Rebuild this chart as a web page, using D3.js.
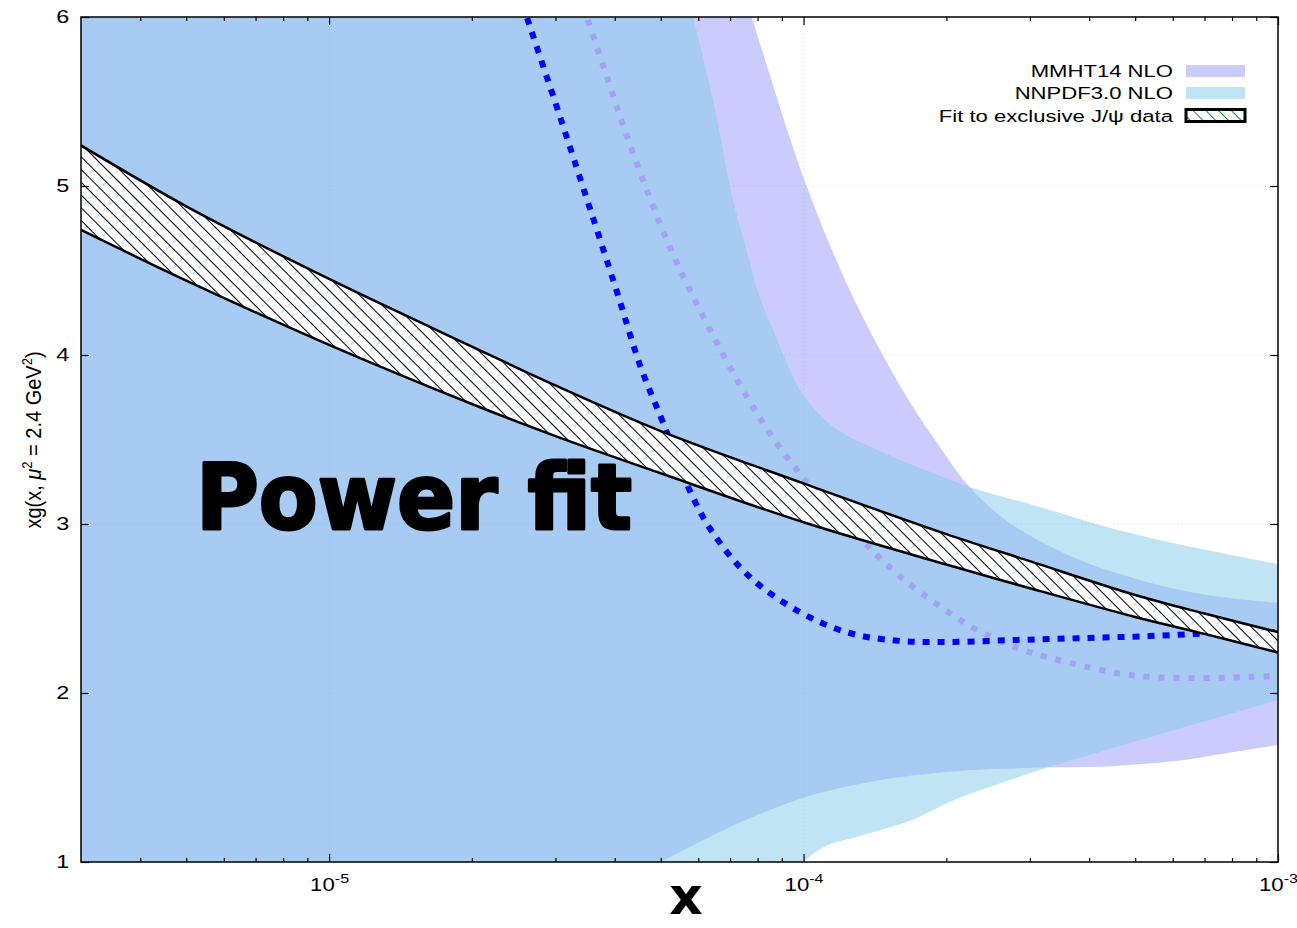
<!DOCTYPE html>
<html lang="en">
<head>
  <meta charset="UTF-8">
  <title>xg(x) power fit</title>
  <style>
    body {
      margin: 0;
      padding: 0;
      background: #fff;
    }
    svg text {
      font-family: "Liberation Sans", Arial, sans-serif;
      fill: #000;
    }
    .big {
      font-family: "DejaVu Sans", sans-serif !important;
      font-weight: bold;
    }
  </style>
</head>
<body>
  <svg id="chart" width="1297" height="928"></svg>

  <script src="https://d3js.org/d3.v7.min.js"></script>
  <script>
    // ---- data: [x, xg] ----
    const fitX     = [3e-6, 5e-6, 1e-5, 2e-5, 3e-5, 5e-5, 1e-4, 2e-4, 3e-4, 5e-4, 7e-4, 1e-3];
    const fitUpper = [5.24, 4.88, 4.45, 4.05, 3.82, 3.55, 3.24, 2.94, 2.78, 2.58, 2.47, 2.36];
    const fitLower = [4.74, 4.44, 4.06, 3.71, 3.52, 3.30, 3.01, 2.76, 2.62, 2.45, 2.35, 2.24];

    const mmhtUpper = [[3e-6, 9], [5.0e-5, 8], [6.73e-5, 6.6], [7.78e-5, 6.0], [8.49e-5, 5.657], [9.36e-5, 5.284],
      [9.97e-5, 5.059], [1.125e-4, 4.68], [1.271e-4, 4.343], [1.469e-4, 4.0], [1.675e-4, 3.722], [1.938e-4, 3.456],
      [2.21e-4, 3.237], [2.68e-4, 3.018], [3.69e-4, 2.805], [5.11e-4, 2.669], [7.08e-4, 2.58], [1e-3, 2.533]];
    const mmhtLower = [[3e-6, 0], [4.2e-5, 0.88], [5.005e-5, 1.0], [6.79e-5, 1.189], [8.32e-5, 1.298], [1.019e-4, 1.387],
      [1.249e-4, 1.45], [1.53e-4, 1.495], [1.877e-4, 1.525], [2.299e-4, 1.544], [3.281e-4, 1.56], [4.228e-4, 1.564],
      [5.18e-4, 1.58], [6.35e-4, 1.604], [7.78e-4, 1.643], [1e-3, 1.692]];

    const nnpdfUpper = [[3e-6, 9], [4.5e-5, 7.4], [5.3e-5, 6.5], [5.85e-5, 6.0], [6.44e-5, 5.509], [7.10e-5, 4.917],
      [7.60e-5, 4.609], [8.05e-5, 4.355], [8.62e-5, 4.148], [9.22e-5, 3.953], [9.82e-5, 3.793], [1.058e-4, 3.675],
      [1.136e-4, 3.592], [1.25e-4, 3.515], [1.418e-4, 3.444], [1.596e-4, 3.379], [1.874e-4, 3.302], [2.275e-4, 3.213],
      [3.148e-4, 3.101], [4.357e-4, 2.982], [6.0e-4, 2.888], [1e-3, 2.763]];
    const nnpdfLower = [[3e-6, 0], [8.5e-5, 0.85], [1e-4, 1.0], [1.062e-4, 1.061], [1.151e-4, 1.111], [1.30e-4, 1.15],
      [1.53e-4, 1.209], [1.694e-4, 1.249], [1.877e-4, 1.308], [2.119e-4, 1.377], [2.543e-4, 1.456], [3.281e-4, 1.56],
      [4.228e-4, 1.653], [6.35e-4, 1.799], [1e-3, 1.959]];

    const mmhtCentral = [[3.2e-5, 6.32], [3.495e-5, 6.0], [3.85e-5, 5.645], [4.20e-5, 5.331], [4.674e-5, 4.976],
      [5.18e-5, 4.663], [5.76e-5, 4.385], [6.57e-5, 4.071], [7.60e-5, 3.751], [8.49e-5, 3.538], [9.68e-5, 3.32],
      [1.136e-4, 3.095], [1.327e-4, 2.905], [1.448e-4, 2.799], [1.612e-4, 2.68], [1.819e-4, 2.568], [2.034e-4, 2.473],
      [2.319e-4, 2.373], [2.817e-4, 2.266], [3.257e-4, 2.213], [3.879e-4, 2.16], [4.69e-4, 2.112], [5.37e-4, 2.095],
      [6.30e-4, 2.089], [7.43e-4, 2.089], [8.72e-4, 2.095], [1e-3, 2.101]];
    const nnpdfCentral = [[2.28e-5, 6.5], [2.61e-5, 6.0], [3.02e-5, 5.467], [3.38e-5, 5.047], [4.05e-5, 4.367],
      [4.52e-5, 3.941], [5.06e-5, 3.598], [5.75e-5, 3.201], [6.44e-5, 2.947], [7.71e-5, 2.686], [9.82e-5, 2.479],
      [1.25e-4, 2.355], [1.60e-4, 2.308], [2.03e-4, 2.302], [2.82e-4, 2.314], [3.88e-4, 2.325], [5.37e-4, 2.337],
      [7.43e-4, 2.355], [1e-3, 2.361]];

    const xMajor = [1e-5, 1e-4, 1e-3];
    const xMajorLabels = ['-5', '-4', '-3'];
    const xMinor = [4e-6, 5e-6, 6e-6, 7e-6, 8e-6, 9e-6,
      2e-5, 3e-5, 4e-5, 5e-5, 6e-5, 7e-5, 8e-5, 9e-5,
      2e-4, 3e-4, 4e-4, 5e-4, 6e-4, 7e-4, 8e-4, 9e-4];
    const yTicks = [1, 2, 3, 4, 5, 6];

    const legendNames = ['MMHT14 NLO', 'NNPDF3.0 NLO', 'Fit to exclusive J/\u03c8 data'];

    // ---- layout ----
    const svg = d3.select('#chart');
    const pL = 81, pR = 1278, pT = 17, pB = 862;
    const textStretch = 1.3;

    const x = d3.scaleLog().domain([3e-6, 1e-3]).range([pL, pR]);
    const y = d3.scaleLinear().domain([1, 6]).range([pB, pT]);

    const defs = svg.append('defs');
    defs.append('clipPath').attr('id', 'plot-clip')
      .append('rect')
      .attr('x', pL).attr('y', pT)
      .attr('width', pR - pL).attr('height', pB - pT);

    // hatch for the fit band
    const hatch = defs.append('pattern')
      .attr('id', 'hatch')
      .attr('patternUnits', 'userSpaceOnUse')
      .attr('width', 9).attr('height', 18)
      .attr('patternTransform', 'rotate(-45)');
    hatch.append('rect').attr('width', 9).attr('height', 18).attr('fill', '#fff');
    hatch.append('line').attr('x1', 4.5).attr('y1', 6).attr('x2', 8.5).attr('y2', 6)
      .attr('stroke', '#9cc3f0').attr('stroke-width', 1);
    hatch.append('line').attr('x1', 0.5).attr('y1', 0).attr('x2', 0.5).attr('y2', 18)
      .attr('stroke', '#000').attr('stroke-width', 1);

    const hatchLegend = defs.append('pattern')
      .attr('id', 'hatch-legend')
      .attr('patternUnits', 'userSpaceOnUse')
      .attr('width', 9).attr('height', 9)
      .attr('patternTransform', 'rotate(-45)');
    hatchLegend.append('rect').attr('width', 9).attr('height', 9).attr('fill', '#fff');
    hatchLegend.append('line').attr('x1', 0.5).attr('y1', 0).attr('x2', 0.5).attr('y2', 9)
      .attr('stroke', '#1a8a1a').attr('stroke-width', 1);

    // faint grid
    const grid = svg.append('g').attr('stroke', '#d8d8d8').attr('stroke-width', 1).attr('stroke-dasharray', '1,3');
    grid.selectAll('.gx').data(xMajor.slice(0, 2)).enter().append('line')
      .attr('x1', d => x(d)).attr('x2', d => x(d)).attr('y1', pT).attr('y2', pB);
    grid.selectAll('.gy').data(yTicks.slice(1, 5)).enter().append('line')
      .attr('x1', pL).attr('x2', pR).attr('y1', d => y(d)).attr('y2', d => y(d));

    const line = d3.line()
      .x(d => x(d[0]))
      .y(d => y(d[1]))
      .curve(d3.curveCatmullRom.alpha(0.5));

    function bandPath(upper, lower) {
      const lo = line(lower.slice().reverse());
      return line(upper) + 'L' + lo.slice(1) + 'Z';
    }

    const plot = svg.append('g').attr('clip-path', 'url(#plot-clip)');

    plot.append('path')
      .attr('d', bandPath(mmhtUpper, mmhtLower))
      .attr('fill', 'rgb(153,153,249)')
      .attr('fill-opacity', 0.5);

    plot.append('path')
      .attr('d', bandPath(nnpdfUpper, nnpdfLower))
      .attr('fill', 'rgb(129,201,231)')
      .attr('fill-opacity', 0.5);

    plot.append('path')
      .attr('d', line(mmhtCentral))
      .attr('fill', 'none')
      .attr('stroke', '#a3a3f3')
      .attr('stroke-width', 6)
      .attr('stroke-dasharray', '6,9');

    plot.append('path')
      .attr('d', line(nnpdfCentral))
      .attr('fill', 'none')
      .attr('stroke', '#0000ff')
      .attr('stroke-width', 6)
      .attr('stroke-dasharray', '7,8');

    // fit band
    const fitUp = fitX.map((v, i) => [v, fitUpper[i]]);
    const fitLo = fitX.map((v, i) => [v, fitLower[i]]);
    plot.append('path')
      .attr('d', bandPath(fitUp, fitLo))
      .attr('fill', 'url(#hatch)');
    [fitUp, fitLo].forEach(edge => {
      plot.append('path')
        .attr('d', line(edge))
        .attr('fill', 'none')
        .attr('stroke', '#000')
        .attr('stroke-width', 2.5);
    });

    // ---- axes ----
    svg.append('g')
      .attr('transform', `translate(0,${pB})`)
      .call(d3.axisBottom(x).tickValues(xMinor).tickSize(-4).tickFormat(''))
      .call(g => g.select('.domain').remove());
    svg.append('g')
      .attr('transform', `translate(0,${pT})`)
      .call(d3.axisTop(x).tickValues(xMinor).tickSize(-4).tickFormat(''))
      .call(g => g.select('.domain').remove());
    svg.append('g')
      .attr('transform', `translate(0,${pT})`)
      .call(d3.axisTop(x).tickValues(xMajor).tickSize(-8).tickFormat(''))
      .call(g => g.select('.domain').remove());

    const xAxis = svg.append('g')
      .attr('transform', `translate(0,${pB})`)
      .call(d3.axisBottom(x).tickValues(xMajor).tickSize(-8).tickFormat(''))
      .call(g => g.select('.domain').remove());
    xAxis.selectAll('.tick text').remove();
    xAxis.selectAll('.tick').append('text')
      .attr('y', 29)
      .attr('text-anchor', 'middle')
      .attr('font-size', 18)
      .attr('transform', `scale(${textStretch * 0.95},1)`)
      .each(function (d, i) {
        const t = d3.select(this);
        t.append('tspan').text('10');
        t.append('tspan').attr('dy', -8).attr('font-size', 13).text(xMajorLabels[i]);
      });

    const yAxis = svg.append('g')
      .attr('transform', `translate(${pL},0)`)
      .call(d3.axisLeft(y).tickValues(yTicks).tickSize(-8).tickFormat(d3.format('d')))
      .call(g => g.select('.domain').remove());
    yAxis.selectAll('.tick text')
      .attr('x', -9)
      .attr('font-size', 18)
      .attr('font-family', '"Liberation Sans", Arial, sans-serif')
      .attr('transform', `scale(${textStretch},1)`);

    svg.append('g')
      .attr('transform', `translate(${pR},0)`)
      .call(d3.axisRight(y).tickValues(yTicks).tickSize(-8).tickFormat(''))
      .call(g => g.select('.domain').remove());

    svg.selectAll('.tick line').attr('stroke', '#000').attr('stroke-width', 1.2);

    svg.append('rect')
      .attr('x', pL).attr('y', pT)
      .attr('width', pR - pL).attr('height', pB - pT)
      .attr('fill', 'none')
      .attr('stroke', '#000')
      .attr('stroke-width', 1.5);

    // axis titles
    const yLabel = svg.append('text')
      .attr('transform', `translate(41,440) scale(1.1,1) rotate(-90)`)
      .attr('text-anchor', 'middle')
      .attr('font-size', 20);
    yLabel.append('tspan').text('xg(x, ');
    yLabel.append('tspan').attr('font-style', 'italic').text('\u03bc');
    yLabel.append('tspan').attr('dy', -8).attr('font-size', 13).text('2');
    yLabel.append('tspan').attr('dy', 8).text(' = 2.4 GeV');
    yLabel.append('tspan').attr('dy', -8).attr('font-size', 13).text('2');
    yLabel.append('tspan').attr('dy', 8).text(')');

    svg.append('text')
      .attr('class', 'big')
      .attr('x', 686).attr('y', 914)
      .attr('text-anchor', 'middle')
      .attr('font-size', 52)
      .text('x');

    svg.append('text')
      .attr('class', 'big')
      .attr('x', 196).attr('y', 529)
      .attr('font-size', 90)
      .attr('stroke', '#000')
      .attr('stroke-width', 3)
      .attr('stroke-linejoin', 'round')
      .attr('textLength', 436)
      .attr('lengthAdjust', 'spacingAndGlyphs')
      .text('Power fit');

    // ---- legend ----
    const legendY = [71, 93, 115.5];
    const legend = svg.append('g');
    legendNames.forEach((name, i) => {
      legend.append('text')
        .attr('transform', `translate(1173,${legendY[i] + 6}) scale(${textStretch},1)`)
        .attr('text-anchor', 'end')
        .attr('font-size', 17)
        .text(name);
    });
    legend.append('rect')
      .attr('x', 1186).attr('y', legendY[0] - 6).attr('width', 59).attr('height', 12)
      .attr('fill', 'rgb(153,153,249)').attr('fill-opacity', 0.5);
    legend.append('rect')
      .attr('x', 1186).attr('y', legendY[1] - 6).attr('width', 59).attr('height', 12)
      .attr('fill', 'rgb(129,201,231)').attr('fill-opacity', 0.5);
    legend.append('rect')
      .attr('x', 1186).attr('y', legendY[2] - 6).attr('width', 59).attr('height', 12)
      .attr('fill', 'url(#hatch-legend)')
      .attr('stroke', '#000').attr('stroke-width', 3);
  </script>
</body>
</html>
